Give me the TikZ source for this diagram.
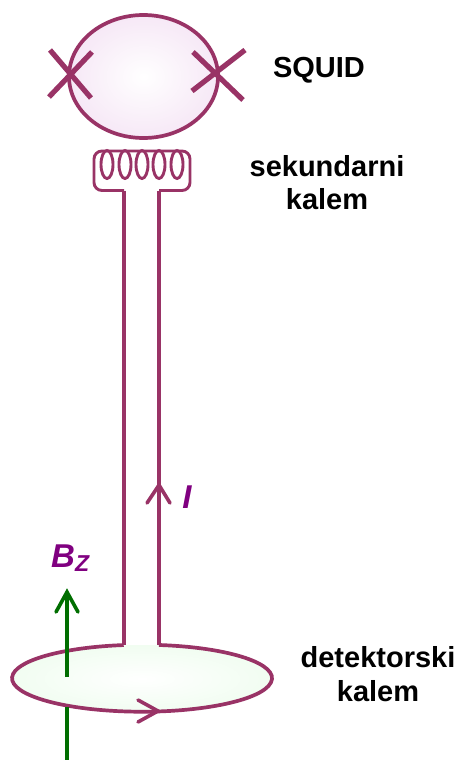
\documentclass[tikz,border=0pt]{standalone}
\usepackage{fontspec}
\usetikzlibrary{shapes.geometric,shadings}
\setmainfont{Liberation Sans}
\definecolor{wire}{RGB}{153,51,102}
\definecolor{pinkfill}{RGB}{246,232,246}
\definecolor{greenfill}{RGB}{241,253,241}
\definecolor{fieldgreen}{RGB}{0,110,0}
\definecolor{labelpurple}{RGB}{128,0,128}
\begin{document}
\begin{tikzpicture}[x=1pt,y=-1pt,
  wireline/.style={draw=wire,line width=3.7pt},
  coilwire/.style={draw=wire,line width=2.9pt},
  jjline/.style={draw=wire,line width=5.2pt},
  barb/.style={line width=3.6pt,line cap=round,line join=miter},
  title/.style={font=\fontsize{29}{33.5}\selectfont\bfseries,align=center,inner sep=0pt},
  sym/.style={font=\fontsize{33}{35}\selectfont\bfseries\itshape,text=labelpurple,inner sep=0pt}]
\useasboundingbox (0,0) rectangle (457,760);
% SQUID ring
\node[ellipse,minimum width=149pt,minimum height=123pt,inner sep=0pt,wireline,
  inner color=white,outer color=pinkfill] (ring) at (143.5,76.5) {};
% Josephson junctions
\coordinate (jla) at (50,50); \coordinate (jlb) at (91,98);
\coordinate (jlc) at (49,97); \coordinate (jld) at (92,52);
\coordinate (jra) at (193,52); \coordinate (jrb) at (243,100);
\coordinate (jrc) at (192,91); \coordinate (jrd) at (245,50);
\draw[jjline] (jla) -- (jlb);
\draw[jjline] (jlc) -- (jld);
\draw[jjline] (jra) -- (jrb);
\draw[jjline] (jrc) -- (jrd);
% Secondary coil
\foreach \n/\cx in {a/107,b/125,c/142,d/159,e/177}
  \node[ellipse,minimum width=12pt,minimum height=28pt,inner sep=0pt,coilwire] (loop\n) at (\cx,164.5) {};
% Detector loop
\node[ellipse,minimum width=260pt,minimum height=67pt,inner sep=0pt,
  inner color=white,outer color=greenfill] (det) at (142,678.5) {};
\coordinate (stemLbot) at (124,645);
\coordinate (stemRbot) at (159,645);
\coordinate (stemLtop) at (124,190.5);
\coordinate (stemRtop) at (159,190.5);
\coordinate (cbl) at (94,190.5); \coordinate (ctl) at (94,151);
\coordinate (ctr) at (190,151); \coordinate (cbr) at (190,190.5);
\draw[coilwire,rounded corners=8pt] (stemLtop) -- (cbl) -- (ctl) -- (ctr) -- (cbr) -- (stemRtop);
\draw[wireline] (stemLtop) -- (stemLbot);
\draw[wireline] (stemRtop) -- (stemRbot);
\draw[wireline] (stemRbot) arc[start angle=82.5,end angle=-261.9,x radius=130pt,y radius=33.5pt];
% Current arrows
\coordinate (itip) at (159,485); \coordinate (ila) at (147,503); \coordinate (ilb) at (170,503);
\draw[draw=wire,barb] (ila) -- (itip) -- (ilb);
\coordinate (dtip) at (158,711); \coordinate (dla) at (138,700); \coordinate (dlb) at (138,722);
\draw[draw=wire,barb] (dla) -- (dtip) -- (dlb);
% Field arrow
\coordinate (btip) at (67,592); \coordinate (bla) at (56,612); \coordinate (blb) at (78,612);
\coordinate (bmid) at (67,677); \coordinate (blow) at (67,707); \coordinate (bend) at (67,760);
\draw[draw=fieldgreen,line width=3.8pt] (bmid) -- (btip);
\draw[draw=fieldgreen,barb] (bla) -- (btip) -- (blb);
\draw[draw=fieldgreen,line width=3.8pt] (blow) -- (bend);
% Labels
\node[title] (squid) at (319,70) {SQUID};
\node[title] (sec) at (327,182.5) {sekundarni\\kalem};
\node[title] (detlab) at (378,674) {detektorski\\kalem};
\node[sym,anchor=base west] (bz) at (51,567) {B\raisebox{-4pt}{\fontsize{23}{25}\selectfont Z}};
\node[sym,anchor=base] (cur) at (187,508) {I};
\end{tikzpicture}
\end{document}
